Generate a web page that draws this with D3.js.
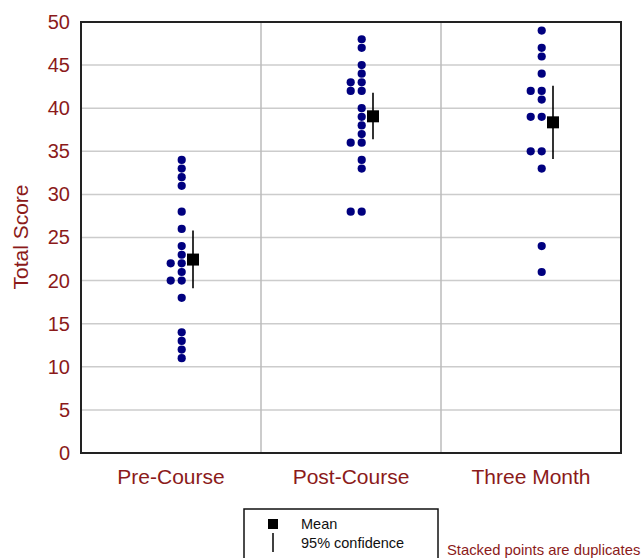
<!DOCTYPE html>
<html>
<head>
<meta charset="utf-8">
<script src="https://cdn.jsdelivr.net/npm/d3@7"></script>
<style>
  html, body { margin: 0; padding: 0; background: #fff; }
  svg { display: block; font-family: "Liberation Sans", Arial, sans-serif; }
</style>
</head>
<body>
<svg id="chart" width="644" height="558"></svg>
<script>
// ---- data ----
const categories = ["Pre-Course", "Post-Course", "Three Month"];
const preCourse  = [34, 33, 32, 31, 28, 26, 24, 23, 22, 22, 21, 20, 20, 18, 14, 13, 12, 11];
const postCourse = [48, 47, 45, 44, 43, 43, 42, 42, 40, 39, 38, 37, 36, 36, 34, 33, 28, 28];
const threeMonth = [49, 47, 46, 44, 42, 42, 41, 39, 39, 35, 35, 33, 24, 21];
const means  = [22.44, 39.06, 38.36];
const ciLow  = [19.1, 36.4, 34.1];
const ciHigh = [25.8, 41.8, 42.6];
const yTicks = [0, 5, 10, 15, 20, 25, 30, 35, 40, 45, 50];

const series = [preCourse, postCourse, threeMonth];

// ---- layout ----
const svg = d3.select("#chart");
const pLeft = 81, pRight = 621, pTop = 22, pBottom = 453;
const red = "#8b1a1a";

const x = d3.scaleBand().domain(categories).range([pLeft, pRight]).padding(0);
const y = d3.scaleLinear().domain([0, 50]).range([pBottom, pTop]);

// gridlines
svg.append("g").selectAll("line").data(yTicks.filter(t => t > 0 && t < 50)).join("line")
  .attr("x1", pLeft).attr("x2", pRight)
  .attr("y1", d => y(d)).attr("y2", d => y(d))
  .attr("stroke", "#cccccc").attr("stroke-width", 1.5);

// vertical separators
svg.append("g").selectAll("line").data(categories.slice(1)).join("line")
  .attr("x1", d => x(d)).attr("x2", d => x(d))
  .attr("y1", pTop).attr("y2", pBottom)
  .attr("stroke", "#bbbbbb").attr("stroke-width", 1.5);

// frame
svg.append("rect")
  .attr("x", pLeft).attr("y", pTop)
  .attr("width", pRight - pLeft).attr("height", pBottom - pTop)
  .attr("fill", "none").attr("stroke", "#222").attr("stroke-width", 2);

// y axis labels
const yAxis = d3.axisLeft(y).tickValues(yTicks).tickSize(0).tickPadding(11);
const ga = svg.append("g").attr("transform", `translate(${pLeft},0)`).call(yAxis);
ga.select(".domain").remove();
ga.selectAll("text").attr("fill", red).attr("font-size", 20)
  .attr("font-family", "Liberation Sans, Arial, sans-serif");

// x axis labels
const xAxis = d3.axisBottom(x).tickSize(0).tickPadding(16);
const gx = svg.append("g").attr("transform", `translate(0,${pBottom})`).call(xAxis);
gx.select(".domain").remove();
gx.selectAll("text").attr("fill", red).attr("font-size", 21)
  .attr("font-family", "Liberation Sans, Arial, sans-serif");

// y title
svg.append("text")
  .attr("transform", "translate(28,237) rotate(-90)")
  .attr("text-anchor", "middle")
  .attr("fill", red).attr("font-size", 21)
  .text("Total Score");

// points
const dotOffset = 10.7, dupStep = 11, meanOffset = 22;
categories.forEach((cat, i) => {
  const cx = x(cat) + x.bandwidth() / 2;
  const counts = {};
  const pts = series[i].map(v => {
    const k = counts[v] || 0;
    counts[v] = k + 1;
    return { v, k };
  });
  svg.append("g").selectAll("circle").data(pts).join("circle")
    .attr("cx", d => cx + dotOffset - d.k * dupStep)
    .attr("cy", d => y(d.v))
    .attr("r", 4.1)
    .attr("fill", "#00007f");
  // CI line
  svg.append("line")
    .attr("x1", cx + meanOffset).attr("x2", cx + meanOffset)
    .attr("y1", y(ciLow[i])).attr("y2", y(ciHigh[i]))
    .attr("stroke", "#000").attr("stroke-width", 1.6);
  // mean square
  svg.append("rect")
    .attr("x", cx + meanOffset - 6).attr("y", y(means[i]) - 6)
    .attr("width", 12).attr("height", 12)
    .attr("fill", "#000");
});

// legend
svg.append("rect")
  .attr("x", 244).attr("y", 509).attr("width", 194).attr("height", 70)
  .attr("fill", "#fff").attr("stroke", "#111").attr("stroke-width", 1.5);
svg.append("rect").attr("x", 268).attr("y", 519).attr("width", 10).attr("height", 10).attr("fill", "#000");
svg.append("line").attr("x1", 273).attr("x2", 273).attr("y1", 533).attr("y2", 552)
  .attr("stroke", "#000").attr("stroke-width", 1.5);
svg.append("text").attr("x", 301).attr("y", 529).attr("font-size", 14.5).attr("fill", "#111").text("Mean");
svg.append("text").attr("x", 301).attr("y", 548).attr("font-size", 14.5).attr("fill", "#111").text("95% confidence");

svg.append("text").attr("x", 447).attr("y", 555).attr("font-size", 14.8).attr("fill", red)
  .text("Stacked points are duplicates");
</script>
</body>
</html>
